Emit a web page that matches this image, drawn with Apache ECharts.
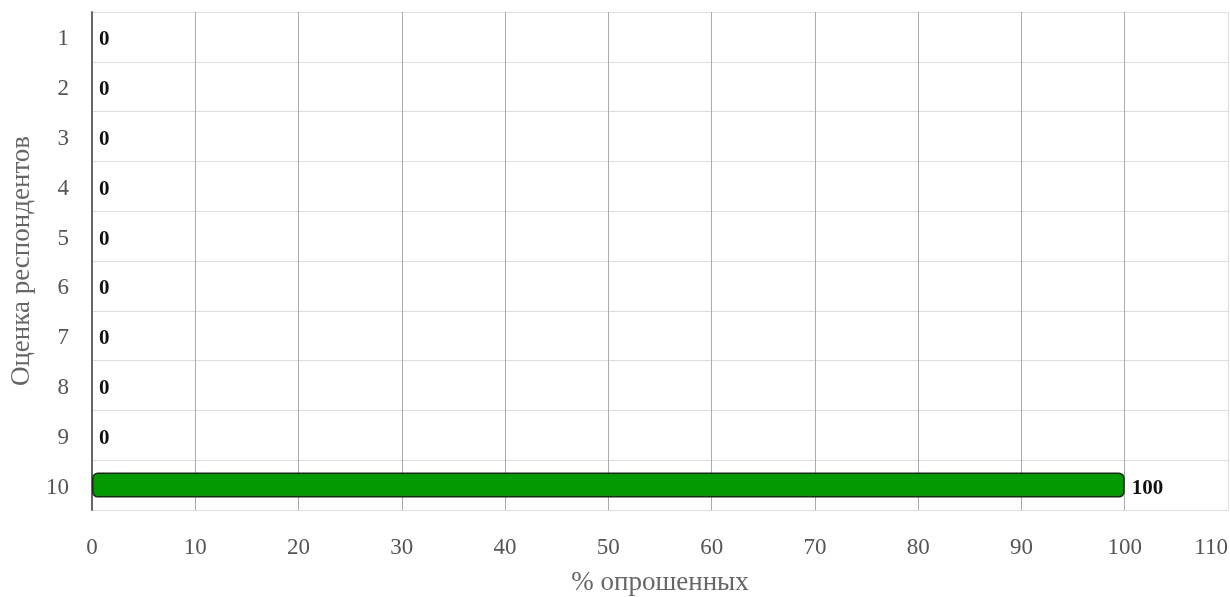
<!DOCTYPE html>
<html><head><meta charset="utf-8">
<script src="https://cdn.jsdelivr.net/npm/echarts@6/dist/echarts.min.js"></script>
<style>html,body{margin:0;padding:0;background:#fff}#c{width:1230px;height:597px}</style>
</head><body><div id="c"></div>
<script>
var categories = ['1','2','3','4','5','6','7','8','9','10'];
var values = [0,0,0,0,0,0,0,0,0,100];
var xTicks = {min:0, max:110, interval:10};
var xName = '% опрошенных';
var yName = 'Оценка респондентов';

var chart = echarts.init(document.getElementById('c'));
var serif = '"Liberation Serif", "DejaVu Serif", serif';
var vColors = [];
for (var i = 0; i < 11; i++) vColors.push('#aaa');
vColors.push('#ddd');
var barData = values.map(function (v) {
  return v === 0 ? {value: v, itemStyle: {borderWidth: 0}} : v;
});
chart.setOption({
  animation:false,
  grid:{left:92, right:2, top:12, bottom:87, containLabel:false, outerBoundsMode:'none'},
  xAxis:{type:'value', min:xTicks.min, max:xTicks.max, interval:xTicks.interval,
    name:xName, nameLocation:'middle', nameGap:59,
    nameTextStyle:{fontFamily:serif, fontSize:27, color:'#666'},
    axisLine:{show:false}, axisTick:{show:false},
    axisLabel:{fontFamily:serif, fontSize:23, color:'#555', margin:26, alignMaxLabel:'right'},
    splitLine:{show:true, lineStyle:{color:vColors, width:1}}
  },
  yAxis:{type:'category', data:categories, inverse:true,
    name:yName, nameLocation:'middle', nameGap:54,
    nameTextStyle:{fontFamily:serif, fontSize:27, color:'#666'},
    axisLine:{show:true, lineStyle:{color:'#666', width:2}},
    axisTick:{show:false},
    axisLabel:{fontFamily:serif, fontSize:23, color:'#555', margin:23,
      formatter:'{a|{value}}', rich:{a:{fontFamily:serif, fontSize:23, color:'#555', padding:[5,0,0,0]}}},
    splitLine:{show:true, lineStyle:{color:'#ddd', width:1}}
  },
  series:[{type:'bar', data:barData, barWidth:25,
    itemStyle:{color:'#009900', borderColor:'#222', borderWidth:1.5, borderRadius:5},
    label:{show:true, position:'right', distance:7, offset:[0,3], fontFamily:serif, fontWeight:'bold', fontSize:21, color:'#111'}
  }]
});
</script></body></html>
